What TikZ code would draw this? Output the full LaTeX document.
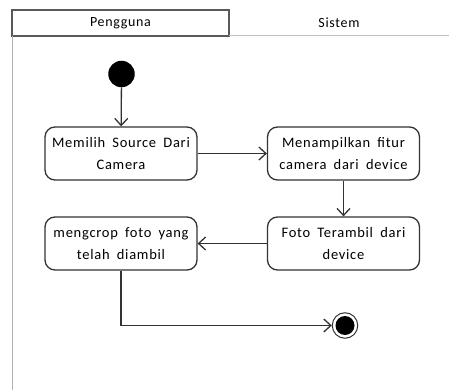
\documentclass[tikz,border=0pt]{standalone}
\usepackage{fontspec}
\setmainfont{Carlito}[LetterSpace=5,WordSpace=1.8]
\usepackage{tikz}
\usetikzlibrary{positioning}
\usetikzlibrary{arrows.meta}

\begin{document}
\begin{tikzpicture}[x=1pt,y=-1pt,
        aksi/.style={draw=black!80, line width=1.3pt, rounded corners=10pt,
            minimum width=152pt, minimum height=53pt, inner sep=0pt,
            align=center, font=\fontsize{14.5}{22}\selectfont},
        panah/.style={draw=black!80, line width=1.3pt,
            -{Straight Barb[length=7pt,width=13pt]}},
        jalur/.style={font=\fontsize{14}{16}\selectfont}]
        \useasboundingbox (0,0) rectangle (449,390);
        % swimlane
        \draw[black!65, line width=1.5pt] (12,10) rectangle (229,36);
        \draw[black!25, line width=.8pt] (229,35) -- (449,35);
        \draw[black!30, line width=.8pt] (12,36) -- (12,390);
        \node[jalur] (pengguna) at (120.5,23) {Pengguna};
        \node[jalur] (sistem) at (339,23) {Sistem};

        % aktivitas
        \node[circle, fill=black, minimum size=26.5pt, inner sep=0pt] (mulai) at (121.5,74) {};
        \node[aksi] (pilih) at (121,153.5) {Memilih Source Dari\\Camera};
        \node[aksi] (tampil) at (343.5,153.5) {Menampilkan fitur\\camera dari device};
        \node[aksi] (ambil) at (343.5,243.5) {Foto Terambil dari\\device};
        \node[aksi] (crop) at (121,243.5) {mengcrop foto yang\\telah diambil};
        \node[circle, draw=black!80, line width=1pt, minimum size=25.5pt, inner sep=0pt] (selesai) at (345,325.5) {};
        \node[circle, fill=black, minimum size=19pt, inner sep=0pt] (selesaiinti) at (selesai) {};

        \draw[panah] (mulai) -- (pilih);
        \draw[panah] (pilih) -- (tampil);
        \draw[panah] (tampil) -- (ambil);
        \draw[panah] (ambil) -- (crop);
        \draw[panah] (crop) |- (selesai);
    \end{tikzpicture}
\end{document}
